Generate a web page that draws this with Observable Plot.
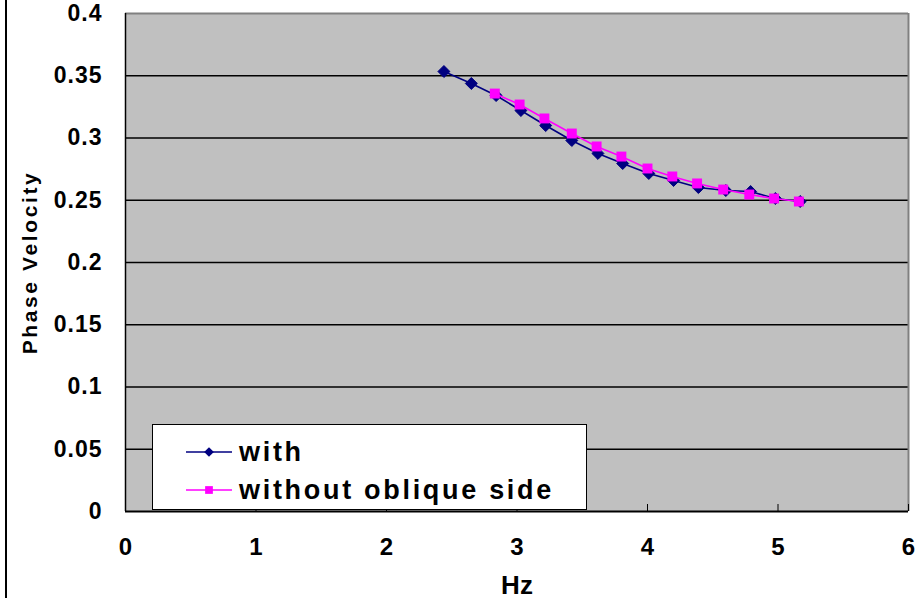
<!DOCTYPE html>
<html>
<head>
<meta charset="utf-8">
<script src="https://cdn.jsdelivr.net/npm/d3@7"></script>
<script src="https://cdn.jsdelivr.net/npm/@observablehq/plot@0.6"></script>
<style>
  html, body { margin: 0; padding: 0; background: #fff; }
  #wrap { position: relative; width: 924px; height: 598px; overflow: hidden; font-family: "Liberation Sans", Arial, sans-serif; }
  #edge { position: absolute; left: 5px; top: 0; width: 2px; height: 598px; background: #000; }
  #legend { position: absolute; left: 152px; top: 424px; width: 433px; height: 84px; background: #fff; border: 1px solid #000; }
  .item { position: absolute; left: 32px; height: 30px; display: flex; align-items: center; }
  .item span { font-weight: bold; font-size: 27px; margin-left: 6px; letter-spacing: 2.7px; color: #000; }
  [aria-label="y-axis tick label"] text { letter-spacing: 1px; }
  .ylab text { letter-spacing: 2.6px; }
</style>
</head>
<body>
<div id="wrap"><div id="edge"></div></div>
<script>
// Series names
const seriesNames = ["with", "without oblique side"];
// Frequencies (Hz) and phase velocities
const hzWith = [2.44, 2.65, 2.84, 3.03, 3.22, 3.42, 3.62, 3.81, 4.01, 4.2, 4.39, 4.6, 4.79, 4.98, 5.17];
const velWith = [0.3534, 0.3438, 0.3341, 0.3221, 0.3100, 0.2980, 0.2876, 0.2795, 0.2715, 0.2659, 0.2602, 0.2578, 0.2570, 0.2514, 0.2490];
const hzWithout = [2.83, 3.02, 3.21, 3.42, 3.61, 3.80, 4.0, 4.19, 4.38, 4.58, 4.78, 4.97, 5.16];
const velWithout = [0.3357, 0.3269, 0.3157, 0.3036, 0.2932, 0.2851, 0.2755, 0.2691, 0.2635, 0.2586, 0.2546, 0.2514, 0.2490];
// Axis ticks
const xTicks = [0, 1, 2, 3, 4, 5, 6];
const yTicks = [0, 0.05, 0.1, 0.15, 0.2, 0.25, 0.3, 0.35, 0.4];

const colors = ["#000080", "#FF00FF"];
const dataWith = hzWith.map((x, i) => ({x, y: velWith[i]}));
const dataWithout = hzWithout.map((x, i) => ({x, y: velWithout[i]}));

const chart = Plot.plot({
  width: 924,
  height: 598,
  marginLeft: 125,
  marginRight: 16,
  marginTop: 13,
  marginBottom: 87,
  style: { fontFamily: "'Liberation Sans', Arial, sans-serif", background: "transparent" },
  x: { domain: [0, 6] },
  y: { domain: [0, 0.4] },
  marks: [
    Plot.frame({ fill: "#C0C0C0", stroke: null }),
    Plot.ruleY(yTicks.slice(1, -1), { stroke: "#000", strokeWidth: 1.3 }),
    Plot.ruleY([0.4], { stroke: "#808080", strokeWidth: 2 }),
    Plot.ruleX([6], { stroke: "#808080", strokeWidth: 2 }),
    Plot.ruleX([0], { stroke: "#000", strokeWidth: 1.5 }),
    Plot.ruleY([0], { stroke: "#000", strokeWidth: 2 }),
    Plot.axisY({ ticks: yTicks, tickSize: 0, tickPadding: 23, tickFormat: d => String(+d.toFixed(2)),
      fontSize: 23, fontWeight: "bold", label: null }),
    Plot.axisX({ ticks: xTicks, tickSize: -7, tickPadding: 33, tickFormat: d => String(d),
      fontSize: 24, fontWeight: "bold", label: null, stroke: "#000" }),
    Plot.line(dataWith, { x: "x", y: "y", stroke: colors[0], strokeWidth: 1.6 }),
    Plot.dot(dataWith, { x: "x", y: "y", symbol: "diamond2", r: 5.4, fill: colors[0], stroke: colors[0], strokeWidth: 1 }),
    Plot.line(dataWithout, { x: "x", y: "y", stroke: colors[1], strokeWidth: 1.6 }),
    Plot.dot(dataWithout, { x: "x", y: "y", symbol: "square", r: 5.6, fill: colors[1], stroke: null }),
    Plot.text(["Phase Velocity"], { frameAnchor: "left", dx: -95, rotate: -90, textAnchor: "middle", className: "ylab",
      fontSize: 21, fontWeight: "bold", fill: "#000" }),
    Plot.text(["Hz"], { frameAnchor: "bottom", dy: 82, fontSize: 26, fontWeight: "bold", fill: "#000" })
  ]
});

const wrap = document.getElementById("wrap");
wrap.insertBefore(chart, wrap.firstChild);

// Legend
const legend = document.createElement("div");
legend.id = "legend";
seriesNames.forEach((name, i) => {
  const item = document.createElement("div");
  item.className = "item";
  item.style.top = (i === 0 ? 12 : 50) + "px";
  const sw = d3.create("svg").attr("width", 48).attr("height", 20);
  sw.append("line").attr("x1", 1).attr("x2", 47).attr("y1", 10).attr("y2", 10).attr("stroke", colors[i]).attr("stroke-width", 1.6);
  sw.append("path").attr("transform", "translate(24,10)")
    .attr("d", d3.symbol(i === 0 ? d3.symbolDiamond2 : d3.symbolSquare, 60)())
    .attr("fill", colors[i]);
  item.appendChild(sw.node());
  const t = document.createElement("span");
  t.textContent = name;
  item.appendChild(t);
  legend.appendChild(item);
});
wrap.appendChild(legend);
</script>
</body>
</html>
